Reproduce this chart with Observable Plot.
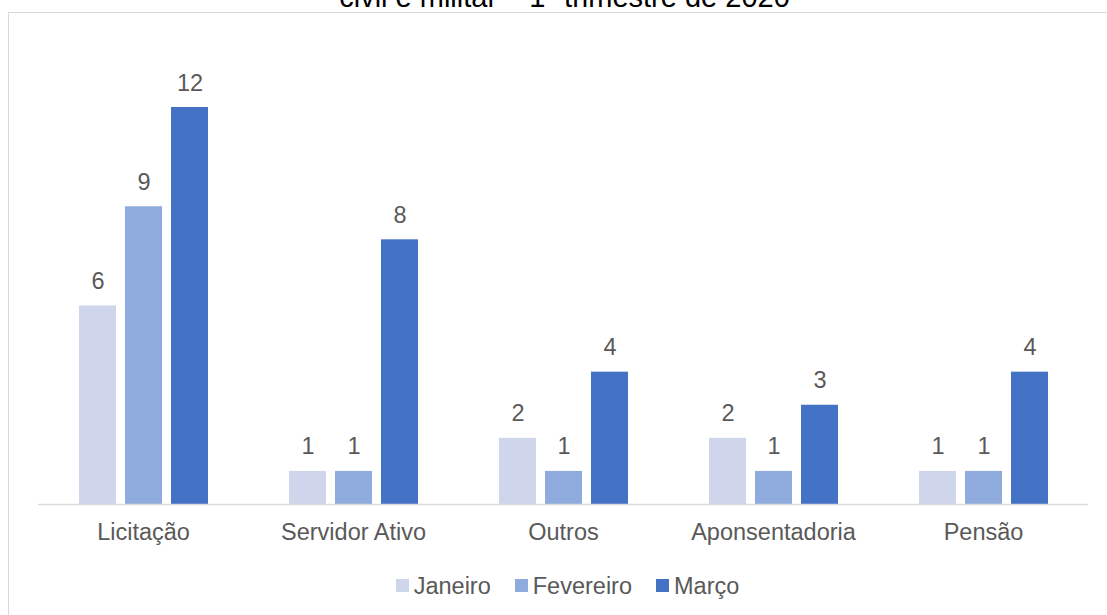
<!DOCTYPE html>
<html>
<head>
<meta charset="utf-8">
<script src="https://cdn.jsdelivr.net/npm/d3@7"></script>
<script src="https://cdn.jsdelivr.net/npm/@observablehq/plot@0.6"></script>
<style>
  html, body { margin: 0; padding: 0; background: #fff; }
  #wrap { position: relative; width: 1107px; height: 615px; overflow: hidden; font-family: "Liberation Sans", Arial, sans-serif; }
  #frame { position: absolute; left: 8px; top: 12px; width: 1200px; height: 700px; border: 1px solid #d9d9d9; box-sizing: border-box; }
  #title { position: absolute; left: 0; width: 1129px; text-align: center; top: -17.5px; font-size: 29px; color: #000; white-space: nowrap; line-height: 1; }
  #chart { position: absolute; left: 0; top: 0; }
  #legend { position: absolute; left: 0; width: 1135px; top: 570px; text-align: center; font-size: 23.5px; color: #595959; line-height: 28px; white-space: nowrap; }
  #legend span.item { display: inline-flex; align-items: center; margin: 0 12px; }
  #legend span.sw { display: inline-block; width: 13px; height: 13px; margin-right: 5px; }
</style>
</head>
<body>
<div id="wrap">
  <div id="frame"></div>
  <div id="title">civil e militar – 1º trimestre de 2020</div>
  <div id="chart"></div>
  <div id="legend"></div>
</div>
<script>
const categories = ["Licitação", "Servidor Ativo", "Outros", "Aponsentadoria", "Pensão"];
const months = ["Janeiro", "Fevereiro", "Março"];
const janeiro = [6, 1, 2, 2, 1];
const fevereiro = [9, 1, 1, 1, 1];
const marco = [12, 8, 4, 3, 4];
const colors = ["#cfd5ea", "#8faadc", "#4472c4"];

const series = [janeiro, fevereiro, marco];
const data = [];
categories.forEach((c, i) => {
  months.forEach((m, j) => {
    data.push({cat: c, month: m, value: series[j][i]});
  });
});

const chart = Plot.plot({
  width: 1107,
  height: 560,
  marginTop: 107,
  marginBottom: 56,
  marginLeft: 37,
  marginRight: 18,
  style: {fontFamily: "Liberation Sans, Arial, sans-serif", background: "transparent", overflow: "visible"},
  fx: {domain: categories, padding: 0, label: null},
  x: {domain: months, paddingInner: 0.2, paddingOuter: 0.86, axis: null},
  y: {domain: [0, 12], axis: null},
  color: {domain: months, range: colors},
  marks: [
    Plot.barY(data, {fx: "cat", x: "month", y: "value", fill: "month"}),
    Plot.ruleY([0], {stroke: "#d9d9d9", strokeWidth: 1.5}),
    Plot.text(data, {fx: "cat", x: "month", y: "value", text: d => String(d.value), lineAnchor: "bottom", dy: -17, fontSize: 23.5, fill: "#595959"}),
    Plot.axisFx({anchor: "bottom", tickSize: 0, tickPadding: 19, fontSize: 23.5, color: "#595959", label: null})
  ]
});
document.getElementById("chart").appendChild(chart);

const legend = document.getElementById("legend");
months.forEach((m, j) => {
  const item = document.createElement("span");
  item.className = "item";
  const sw = document.createElement("span");
  sw.className = "sw";
  sw.style.background = colors[j];
  item.appendChild(sw);
  item.appendChild(document.createTextNode(m));
  legend.appendChild(item);
});
</script>
</body>
</html>
